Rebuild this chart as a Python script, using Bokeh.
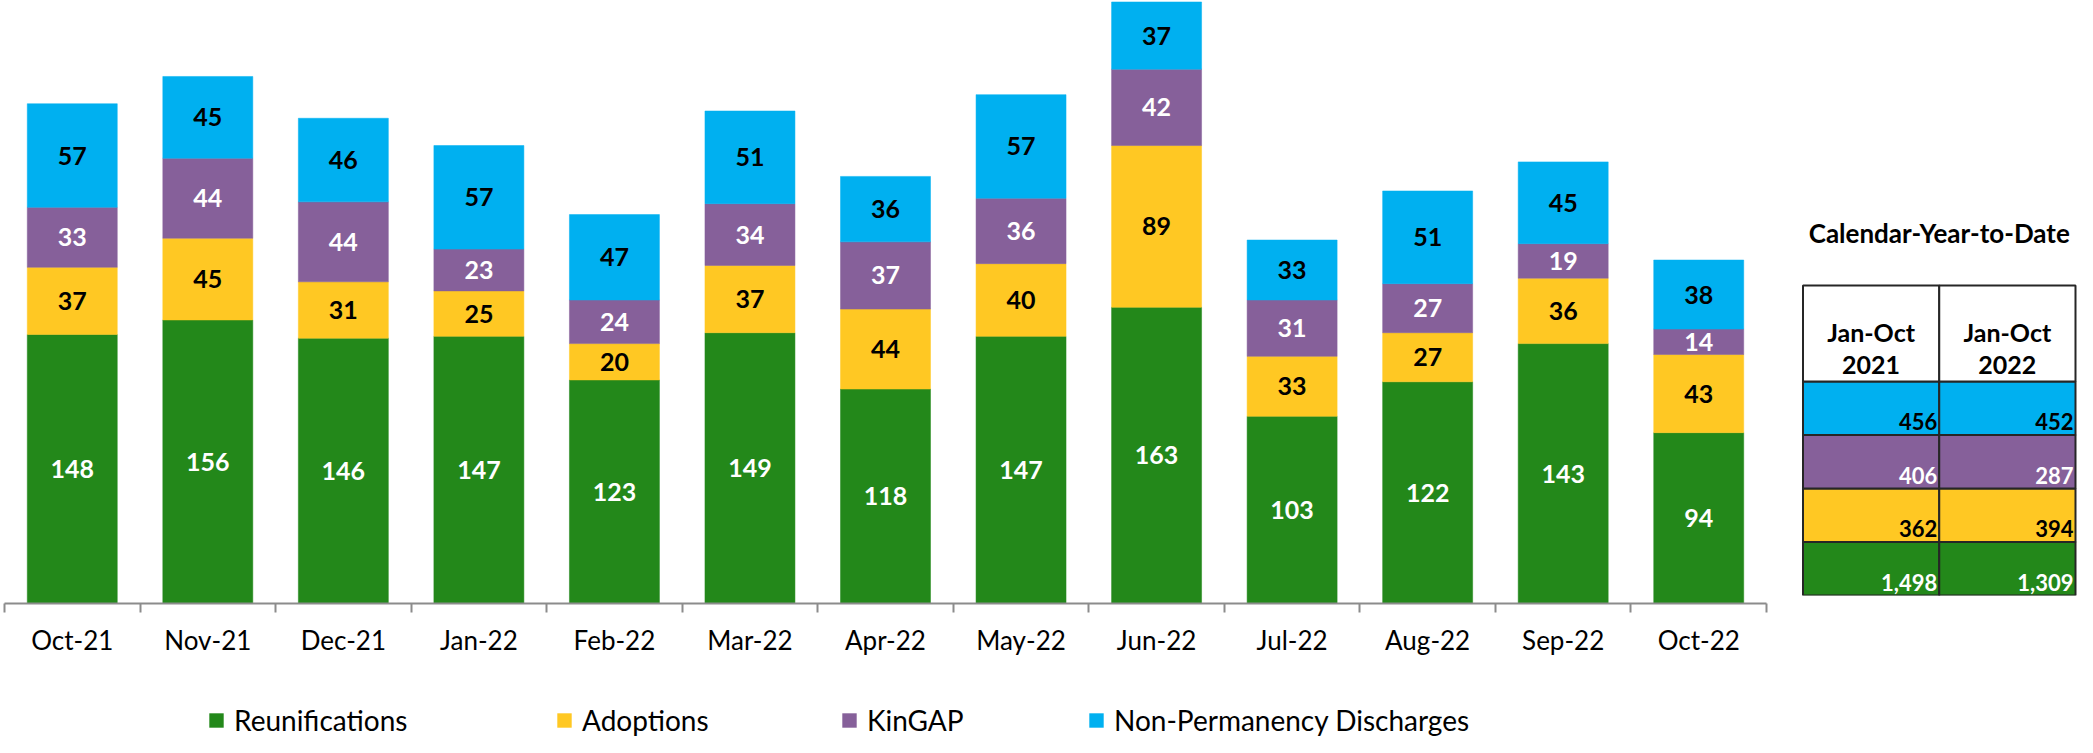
from bokeh.plotting import figure
from bokeh.models import (ColumnDataSource, Range1d, LinearAxis, FixedTicker,
                          Legend, LegendItem)
from bokeh.layouts import row, column
from bokeh.core.properties import value
from bokeh.embed import file_html
from bokeh.resources import INLINE

# ---------------- data ----------------
months = ["Oct-21", "Nov-21", "Dec-21", "Jan-22", "Feb-22", "Mar-22", "Apr-22",
          "May-22", "Jun-22", "Jul-22", "Aug-22", "Sep-22", "Oct-22"]
series = ["Reunifications", "Adoptions", "KinGAP", "Non-Permanency Discharges"]
reunifications = [148, 156, 146, 147, 123, 149, 118, 147, 163, 103, 122, 143, 94]
adoptions = [37, 45, 31, 25, 20, 37, 44, 40, 89, 33, 27, 36, 43]
kingap = [33, 44, 44, 23, 24, 34, 37, 36, 42, 31, 27, 19, 14]
non_permanency = [57, 45, 46, 57, 47, 51, 36, 57, 37, 33, 51, 45, 38]

ytd_headers = ["Jan-Oct", "Jan-Oct"]
ytd_years = ["2021", "2022"]
ytd_2021 = [1498, 362, 406, 456]   # Reunif, Adoptions, KinGAP, Non-Perm
ytd_2022 = [1309, 394, 287, 452]
ytd_title = "Calendar-Year-to-Date"

# ---------------- style ----------------
colors = ["#23881A", "#FFC823", "#86609A", "#00B0F0"]
label_colors = ["white", "black", "white", "black"]
FONT = value("Lato")

values = [reunifications, adoptions, kingap, non_permanency]
idx = list(range(len(months)))

src = ColumnDataSource(dict(x=idx, **{s: v for s, v in zip(series, values)}))

p = figure(frame_width=1762, frame_height=603,
           x_range=Range1d(-0.5, len(months) - 0.5),
           y_range=Range1d(0, 331.8), output_backend="svg", toolbar_location=None,
           x_axis_location=None, y_axis_location=None, title=None,
           min_border_left=4, min_border_right=34, min_border_top=0,
           min_border_bottom=40)
p.outline_line_color = None
p.xgrid.visible = False
p.ygrid.visible = False

rends = p.vbar_stack(series, x="x", width=0.664, source=src,
                     fill_color=colors, line_color=colors, line_width=0.5)

# segment labels
lx, ly, lt, lc = [], [], [], []
bottoms = [0] * len(months)
for vals, col in zip(values, label_colors):
    for i, v in enumerate(vals):
        lx.append(i)
        ly.append(bottoms[i] + v / 2)
        lt.append(str(v))
        lc.append(col)
        bottoms[i] += v
p.text(x=lx, y=ly, text=lt, text_color=lc, text_font=FONT,
       text_font_style="bold", text_font_size="25px", text_align="center",
       text_baseline="middle")

ax = LinearAxis(ticker=FixedTicker(ticks=idx, minor_ticks=[i - 0.5 for i in range(len(months) + 1)]),
                major_label_overrides={i: m for i, m in enumerate(months)})
ax.major_tick_out = 0
ax.major_tick_in = 0
ax.minor_tick_out = 9
ax.minor_tick_in = 0
ax.axis_line_color = "#8c8c8c"
ax.axis_line_width = 2
ax.minor_tick_line_color = "#8c8c8c"
ax.minor_tick_line_width = 2
ax.major_label_text_font = "Lato"
ax.major_label_text_font_size = "26px"
ax.major_label_text_color = "black"
ax.major_label_standoff = 11
p.add_layout(ax, "below")

# ---------------- legend strip ----------------
lgf = figure(width=2077, height=62, x_range=Range1d(0, 1), y_range=Range1d(0, 1),
             output_backend="svg", toolbar_location=None, title=None,
             x_axis_location=None, y_axis_location=None,
             min_border_left=0, min_border_right=0, min_border_top=0,
             min_border_bottom=0)
lgf.outline_line_color = None
lgf.xgrid.visible = False
lgf.ygrid.visible = False
legend_x = [207, 555, 840, 1087]
for s, c, lxp in zip(series, colors, legend_x):
    r = lgf.vbar(x=[0.5], top=[0], bottom=[0], width=0.0, fill_color=c, line_color=None)
    lg = Legend(items=[LegendItem(label=s, renderers=[r])],
                location=(lxp, 0), orientation="horizontal",
                glyph_width=18, glyph_height=18, label_standoff=9,
                padding=0, margin=0, border_line_color=None,
                background_fill_alpha=0, label_text_font="Lato",
                label_text_font_size="28px", label_text_color="black")
    lgf.add_layout(lg)

# ---------------- YTD table ----------------
HEADER_TOP = 5.794
t = figure(width=277, height=675, x_range=Range1d(-0.0183, 2.0147),
           y_range=Range1d(0, 11.121), output_backend="svg",
           toolbar_location=None, x_axis_location=None, y_axis_location=None,
           title=None, min_border_left=0, min_border_right=0, min_border_top=0,
           min_border_bottom=80)
t.outline_line_color = None
t.xgrid.visible = False
t.ygrid.visible = False

ql, qr, qb, qt, qc = [], [], [], [], []
for c in range(2):
    for r in range(len(series)):
        ql.append(c); qr.append(c + 1); qb.append(r); qt.append(r + 1); qc.append(colors[r])
    ql.append(c); qr.append(c + 1); qb.append(len(series)); qt.append(HEADER_TOP); qc.append("white")
t.quad(left=ql, right=qr, bottom=qb, top=qt, fill_color=qc,
       line_color="#262626", line_width=2)

vx, vy, vt, vc = [], [], [], []
for c, col_vals in enumerate([ytd_2021, ytd_2022]):
    for r, v in enumerate(col_vals):
        vx.append(c + 1); vy.append(r); vt.append(f"{v:,}"); vc.append(label_colors[r])
t.text(x=vx, y=vy, text=vt, text_color=vc, x_offset=-2, y_offset=-13,
       text_font=FONT, text_font_style="bold", text_font_size="22px",
       text_align="right", text_baseline="alphabetic")

t.text(x=[0.5, 1.5], y=[4.93, 4.93], text=ytd_headers, text_color="black",
       text_font=FONT, text_font_style="bold", text_font_size="25px",
       text_align="center", text_baseline="alphabetic")
t.text(x=[0.5, 1.5], y=[4.3, 4.3], text=ytd_years, text_color="black",
       text_font=FONT, text_font_style="bold", text_font_size="25px",
       text_align="center", text_baseline="alphabetic")
t.text(x=[1.0], y=[6.77], text=[ytd_title], text_color="black",
       text_font=FONT, text_font_style="bold", text_font_size="26px",
       text_align="center", text_baseline="alphabetic")

layout = column(row(p, t), lgf)
open("out.html", "w").write(file_html(layout, INLINE))
